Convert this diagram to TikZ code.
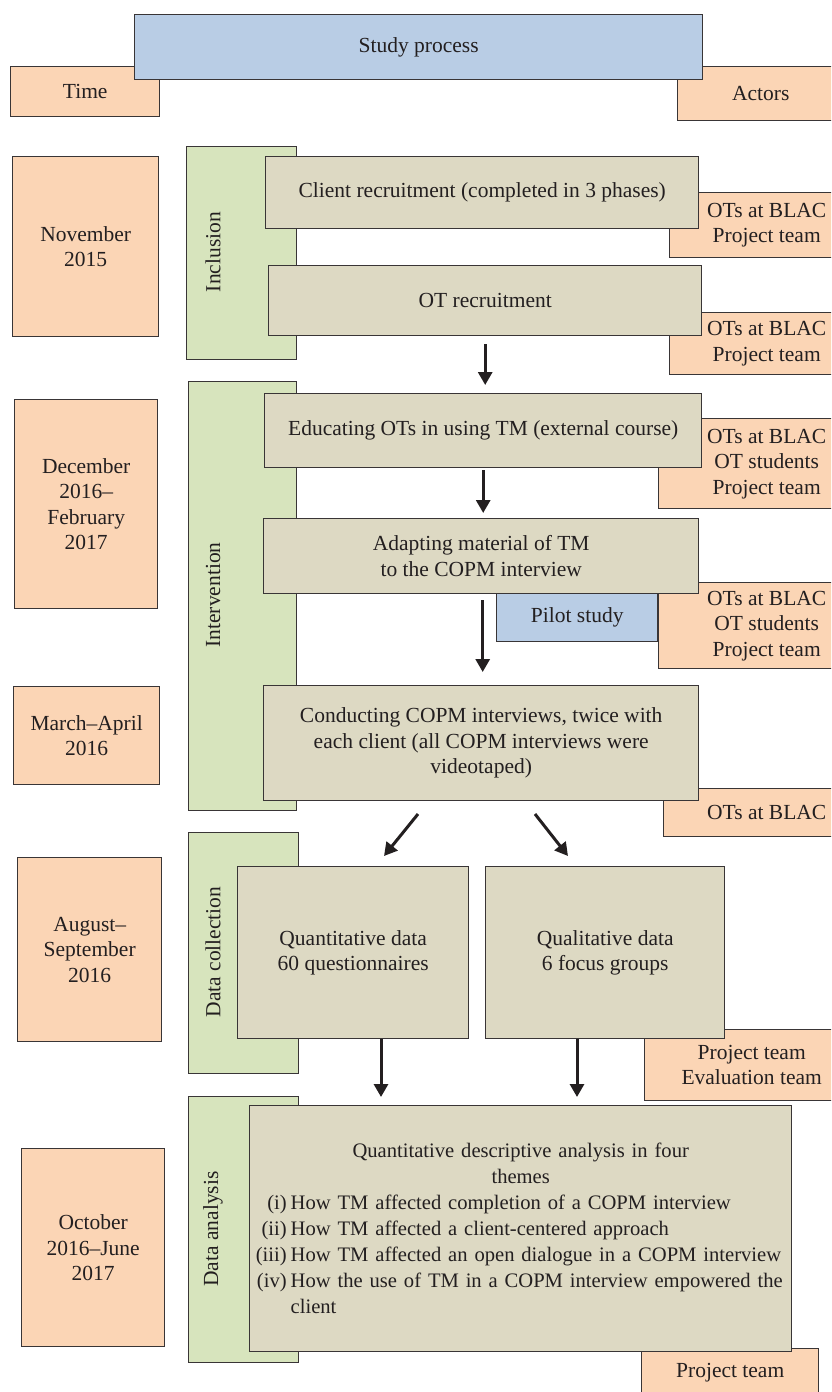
\documentclass[tikz,border=0pt]{standalone}
\usepackage{fontspec}
\setmainfont{Liberation Serif}
\usepackage{xcolor}
\usetikzlibrary{arrows.meta}
\definecolor{peach}{HTML}{FBD5B5}
\definecolor{sage}{HTML}{D7E4BD}
\definecolor{skyblue}{HTML}{B9CDE5}
\definecolor{khaki}{HTML}{DDD9C3}
\definecolor{ink}{HTML}{231F20}
\tikzset{%
  tipF/.tip={Triangle[length=13pt,width=14pt]},
  box/.style={draw=ink!90, line width=1.4pt, anchor=north west, align=center, inner sep=0pt, text=ink},
  timebox/.style={box, fill=peach},
  actbox/.style={box, fill=peach},
  phasebar/.style={box, fill=sage},
  stepbox/.style={box, fill=khaki},
  pilotbox/.style={box, fill=skyblue},
  phaselbl/.style={rotate=90, text=ink},
  flow/.style={ink, line width=3pt, -tipF}
}
\newcommand\themeitem[2]{\makebox[536pt][l]{\makebox[34pt][r]{#1}\hspace{4pt}#2}}

\begin{document}
\begin{tikzpicture}[x=1pt,y=-1pt,font=\fontsize{21.5}{25.5}\selectfont]
\path[use as bounding box] (0,0) rectangle (831,1392);
\clip (0,0) rectangle (831,1392);
% header
\node[timebox, minimum width=149pt, minimum height=50pt] (time) at (10,66) {Time};
\node[actbox, minimum width=166pt, minimum height=54pt] (actors) at (677,66) {Actors};
\node[pilotbox, minimum width=568pt, minimum height=65pt] (study) at (134,14) {Study process};
% time column
\node[timebox, minimum width=146pt, minimum height=180pt] (nov) at (12,156) {November\\2015};
\node[timebox, minimum width=143pt, minimum height=209pt] (dec) at (14,399) {December\\2016--\\February\\2017};
\node[timebox, minimum width=146pt, minimum height=98pt] (mar) at (13,686) {March--April\\2016};
\node[timebox, minimum width=144pt, minimum height=184pt] (aug) at (17,857) {August--\\September\\2016};
\node[timebox, minimum width=143pt, minimum height=198pt] (oct) at (21,1148) {October\\2016--June\\2017};
% phases
\node[phasebar, minimum width=110pt, minimum height=213pt] (incl) at (186,146) {};
\node[phasebar, minimum width=108pt, minimum height=429pt] (interv) at (188,381) {};
\node[phasebar, minimum width=110pt, minimum height=241pt] (dcoll) at (188,832) {};
\node[phasebar, minimum width=110pt, minimum height=266pt] (danal) at (188,1096) {};
\node[phaselbl] (incllbl) at (213,252) {Inclusion};
\node[phaselbl] (intervlbl) at (213,595) {Intervention};
\node[phaselbl] (dcolllbl) at (213,952) {Data collection};
\node[phaselbl] (danallbl) at (213,1229) {Data analysis};
% actors
\node[actbox, minimum width=194pt, minimum height=65pt] (act1) at (669,192) {OTs at BLAC\\Project team};
\node[actbox, minimum width=194pt, minimum height=62pt] (act2) at (669,312) {OTs at BLAC\\Project team};
\node[actbox, minimum width=216pt, minimum height=90pt] (act3) at (658,418) {OTs at BLAC\\OT students\\Project team};
\node[actbox, minimum width=216pt, minimum height=86pt] (act4) at (658,582) {OTs at BLAC\\OT students\\Project team};
\node[actbox, minimum width=206pt, minimum height=48pt] (act5) at (663,788) {OTs at BLAC};
\node[actbox, minimum width=214pt, minimum height=71pt] (act6) at (644,1029) {Project team\\Evaluation team};
\node[actbox, minimum width=177pt, minimum height=48pt] (act7) at (641,1348) {Project team};
% process steps
\node[stepbox, minimum width=433pt, minimum height=72pt] (client) at (265,156) {Client recruitment (completed in 3 phases)};
\node[stepbox, minimum width=433pt, minimum height=70pt] (otrec) at (268,265) {OT recruitment};
\node[stepbox, minimum width=437pt, minimum height=74pt] (edu) at (264,393) {Educating OTs in using TM (external course)};
\node[pilotbox, minimum width=161pt, minimum height=48pt] (pilot) at (496,593) {Pilot study};
\node[stepbox, minimum width=435pt, minimum height=75pt] (adapt) at (263,518) {Adapting material of TM\\to the COPM interview};
\node[stepbox, minimum width=435pt, minimum height=115pt] (conduct) at (263,685) {Conducting COPM interviews, twice with\\each client (all COPM interviews were\\videotaped)};
\node[stepbox, minimum width=231pt, minimum height=172pt] (quant) at (237,866) {Quantitative data\\60 questionnaires};
\node[stepbox, minimum width=239pt, minimum height=172pt] (qual) at (485,866) {Qualitative data\\6 focus groups};
\node[stepbox, minimum width=542pt, minimum height=246pt, text width=536pt, font=\fontsize{20.6}{26}\selectfont] (analysis) at (249,1105)
  {Quantitative descriptive analysis in four\\themes\\
   \themeitem{(i)}{How TM affected completion of a COPM interview}\\
   \themeitem{(ii)}{How TM affected a client-centered approach}\\
   \themeitem{(iii)}{How TM affected an open dialogue in a COPM interview}\\
   \themeitem{(iv)}{How the use of TM in a COPM interview empowered the}\\
   \themeitem{}{client}};
% arrows
\coordinate (colL) at (381,0);
\coordinate (colR) at (577,0);
\coordinate (forkL) at (418,814);
\coordinate (forkLend) at (384,856);
\coordinate (forkR) at (535,814);
\coordinate (forkRend) at (568,856);
\draw[flow, shorten <=8pt, shorten >=8pt] (otrec.south) -- (otrec.south |- edu.north);
\draw[flow, shorten <=2pt, shorten >=5pt] (edu.south) -- (edu.south |- adapt.north);
\draw[flow, shorten <=6pt, shorten >=13pt] ([xshift=1.5pt]adapt.south) -- ([xshift=1.5pt]adapt.south |- conduct.north);
\draw[flow] (forkL) -- (forkLend);
\draw[flow] (forkR) -- (forkRend);
\draw[flow, shorten >=8pt] (quant.south -| colL) -- (analysis.north -| colL);
\draw[flow, shorten >=8pt] (qual.south -| colR) -- (analysis.north -| colR);
\end{tikzpicture}
\end{document}
